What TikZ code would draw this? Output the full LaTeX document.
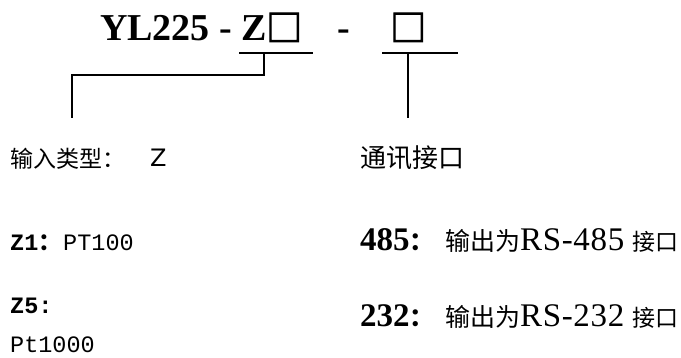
\documentclass[tikz,border=0pt]{standalone}
\usepackage{fontspec}
\setmainfont{Liberation Serif}
\newfontfamily\cjk{Noto Sans CJK SC}
\newfontfamily\cjkbox[FakeBold=3]{Noto Sans CJK SC}
\newfontfamily\monof{Liberation Mono}
\newfontfamily\zsans{DejaVu Sans}
\newfontfamily\spaced[LetterSpace=2]{Liberation Serif}
\begin{document}
\begin{tikzpicture}[x=1pt,y=-1pt,
  lbl/.style={anchor=base west,inner sep=0pt},
  conn/.style={line width=2.8pt,line cap=rect},
  titlef/.style={font=\fontsize{38}{40}\selectfont\bfseries},
  boxf/.style={font=\cjkbox\fontsize{36}{38}\selectfont},
  cjkl/.style={font=\cjk\fontsize{23}{25}\selectfont},
  cjkr/.style={font=\cjk\fontsize{26}{28}\selectfont},
  monol/.style={font=\monof\fontsize{23.5}{26}\selectfont},
  serr/.style={font=\fontsize{33}{35}\selectfont}]
\useasboundingbox (0,0) rectangle (681,358);
% title
\node[lbl,titlef] (t1) at (100,41) {YL225 - Z};
\node[lbl,boxf] (b1) at (266,41) {□};
\node[lbl,titlef] (dash) at (337,41) {-};
\node[lbl,boxf] (b2) at (390,41) {□};
% connectors
\coordinate (h1l) at (240,53);
\coordinate (h1r) at (312,53);
\coordinate (h1m) at (264,53);
\coordinate (k1) at (264,75);
\coordinate (k2) at (72,75);
\coordinate (e1) at (72,117);
\coordinate (h2l) at (383,53);
\coordinate (h2r) at (457,53);
\coordinate (h2m) at (408,53);
\coordinate (e2) at (408,117);
\draw[conn] (h1l) -- (h1r);
\draw[conn] (h1m) -- (k1) -- (k2) -- (e1);
\draw[conn] (h2l) -- (h2r);
\draw[conn] (h2m) -- (e2);
% left column
\node[lbl,cjkl] (in) at (10,168) {输入类型：};
\node[lbl,font=\zsans\fontsize{24}{26}\selectfont] (inz) at (150,167) {Z};
\node[lbl,monol] (z1) at (10,251) {\bfseries Z1\cjk ：};
\node[lbl,monol] (pt100) at (63,251) {PT100};
\node[lbl,monol] (z5) at (10,314) {\bfseries Z5:};
\node[lbl,monol] (pt1000) at (10,353) {Pt1000};
% right column
\node[lbl,cjkr] (comm) at (360,168) {通讯接口};
\node[lbl,serr] (r485) at (360,251) {\bfseries 485\cjk\fontsize{25}{27}\selectfont ：};
\node[lbl,serr] (d485) at (445,251) {{\cjk\fontsize{25}{27}\selectfont 输出为}{\spaced RS-485} {\cjk\fontsize{23}{25}\selectfont 接口}};
\node[lbl,serr] (r232) at (360,327) {\bfseries 232\cjk\fontsize{25}{27}\selectfont ：};
\node[lbl,serr] (d232) at (445,327) {{\cjk\fontsize{25}{27}\selectfont 输出为}{\spaced RS-232} {\cjk\fontsize{23}{25}\selectfont 接口}};
\end{tikzpicture}
\end{document}
